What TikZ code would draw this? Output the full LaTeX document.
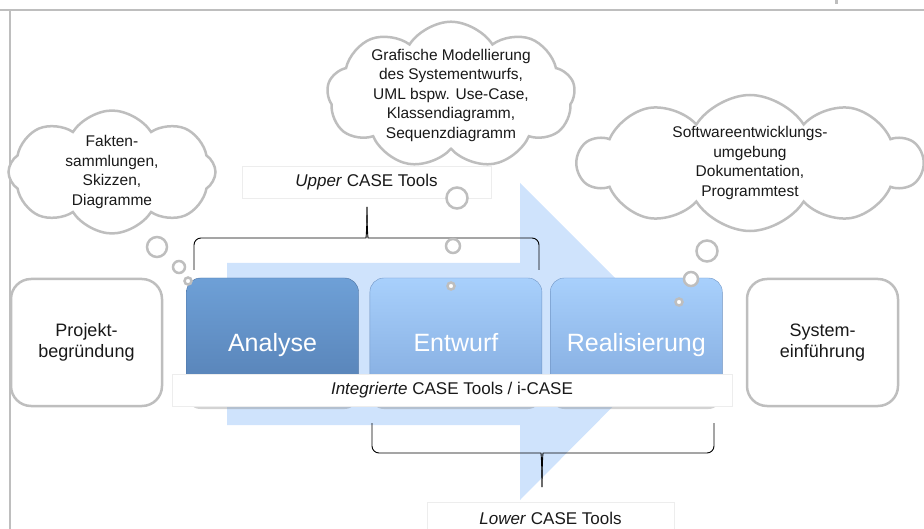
\documentclass[tikz,border=0pt]{standalone}
\usepackage{fontspec}
\setmainfont{Liberation Sans}
\usetikzlibrary{shapes.symbols, positioning, shadows, calc}

\definecolor{arrowblue}{RGB}{207, 227, 252}
\definecolor{phasedark}{RGB}{110, 160, 215}
\definecolor{phasedarkb}{RGB}{84, 126, 178}
\definecolor{phaselight}{RGB}{168, 208, 252}
\definecolor{phaselightb}{RGB}{128, 168, 220}
\definecolor{linegray}{RGB}{190, 190, 190}
\definecolor{textdark}{RGB}{25, 25, 25}

\tikzset{
  phase/.style={rectangle, rounded corners=14pt, minimum width=172pt, minimum height=127pt,
    inner sep=0pt, text height=22pt, text depth=1pt, text=white, font=\fontsize{25}{30}\selectfont,
    drop shadow={shadow xshift=0pt, shadow yshift=-4pt, opacity=0.35}},
  light/.style={top color=phaselight, bottom color=phaselightb, draw=phaselightb!90!black, line width=0.4pt},
  dark/.style={top color=phasedark, bottom color=phasedarkb, draw=phasedarkb!90!black, line width=0.4pt},
  sidebox/.style={rectangle, rounded corners=20pt, draw=linegray, line width=2.5pt, fill=white,
    minimum width=151pt, minimum height=127pt, align=center, text=textdark,
    font=\fontsize{18}{21}\selectfont},
  thought/.style={cloud, cloud puffs=9, cloud puff arc=115, cloud ignores aspect,
    draw=linegray, line width=2.5pt, fill=white, align=center, inner sep=0pt, text=textdark,
    font=\fontsize{15.5}{19.5}\selectfont},
  bubble/.style={circle, draw=linegray, line width=2.5pt, fill=white, inner sep=0pt},
  toolbox/.style={rectangle, draw=black!7, fill=white, minimum height=32pt, inner sep=0pt,
    text=textdark, font=\fontsize{17}{20}\selectfont},
  bracket/.style={draw=black, line width=0.9pt, rounded corners=7pt},
}

\begin{document}
\begin{tikzpicture}[x=1pt, y=-1pt]
  \useasboundingbox (0,0) rectangle (924,529);

  % frame
  \draw[linegray, line width=2.5pt] (0,10) -- (924,10);
  \draw[linegray, line width=2.5pt] (10,10) -- (10,529);
  \fill[linegray] (835,0) rectangle (838,4);

  % big arrow behind the phases
  \fill[arrowblue] (227,263) -- (520,263) -- (520,183) -- (678,341)
    -- (520,500) -- (520,425) -- (227,425) -- cycle;

  % phases
  \node[sidebox] (projekt) at (86.5,342.5) {Projekt-\\begründung};
  \node[phase, dark] (analyse) at (272.5,341.5) {Analyse};
  \node[phase, light, right=11pt of analyse] (entwurf) {Entwurf};
  \node[phase, light, right=8pt of entwurf] (realisierung) {Realisierung};
  \node[sidebox] (einfuehrung) at (822.5,342.5) {System-\\einführung};

  % tool labels
  \node[toolbox, minimum width=560pt] (icase) at (452,390) {\textit{Integrierte} CASE Tools / i-CASE};
  \node[toolbox, minimum width=249pt] (upper) at (366.5,182) {\textit{Upper} CASE Tools};
  \node[toolbox, minimum width=247pt] (lower) at (550.5,518) {\textit{Lower} CASE Tools};

  % braces
  \coordinate (ubl) at (194,270);
  \coordinate (ubr) at (539,270);
  \coordinate (ubt) at (367,207);
  \draw[bracket] (ubl) -- ++(0,-32) -- ($(ubt)+(-8,31)$)
    .. controls ($(ubt)+(-1,31)$) and ($(ubt)+(0,22)$) .. (ubt);
  \draw[bracket] (ubr) -- ++(0,-32) -- ($(ubt)+(8,31)$)
    .. controls ($(ubt)+(1,31)$) and ($(ubt)+(0,22)$) .. (ubt);
  \coordinate (lbl) at (372,423);
  \coordinate (lbr) at (714,423);
  \coordinate (lbt) at (542,487);
  \draw[bracket] (lbl) -- ++(0,30) -- ($(lbt)+(-8,-34)$)
    .. controls ($(lbt)+(-1,-34)$) and ($(lbt)+(0,-24)$) .. (lbt);
  \draw[bracket] (lbr) -- ++(0,30) -- ($(lbt)+(8,-34)$)
    .. controls ($(lbt)+(1,-34)$) and ($(lbt)+(0,-24)$) .. (lbt);

  % clouds
  \node[thought, cloud puffs=8, minimum width=207pt, minimum height=117pt] (ideen) at (112,172)
    {Fakten-\\sammlungen,\\Skizzen,\\Diagramme};
  \node[thought, inner ysep=-7pt, minimum width=248pt, minimum height=126pt] (modell) at (451,95)
    {Grafische Modellierung\\des Systementwurfs,\\UML bspw. Use-Case,\\Klassendiagramm,\\Sequenzdiagramm};
  \node[thought, cloud puffs=10, minimum width=344pt, minimum height=136pt] (umgebung) at (750,163)
    {Softwareentwicklungs-\\umgebung\\Dokumentation,\\Programmtest};

  % thought bubbles
  \node[bubble, minimum size=20pt] (ideen1) at (157,247) {};
  \node[bubble, minimum size=12pt] (ideen2) at (179,267) {};
  \node[bubble, minimum size=7pt] (ideen3) at (188,281) {};
  \node[bubble, minimum size=21pt] (modell1) at (457,198) {};
  \node[bubble, minimum size=14pt] (modell2) at (453,246) {};
  \node[bubble, minimum size=7pt] (modell3) at (451,286) {};
  \node[bubble, minimum size=21pt] (umgebung1) at (707,251) {};
  \node[bubble, minimum size=14pt] (umgebung2) at (691,279) {};
  \node[bubble, minimum size=7pt] (umgebung3) at (679,302) {};
\end{tikzpicture}
\end{document}
